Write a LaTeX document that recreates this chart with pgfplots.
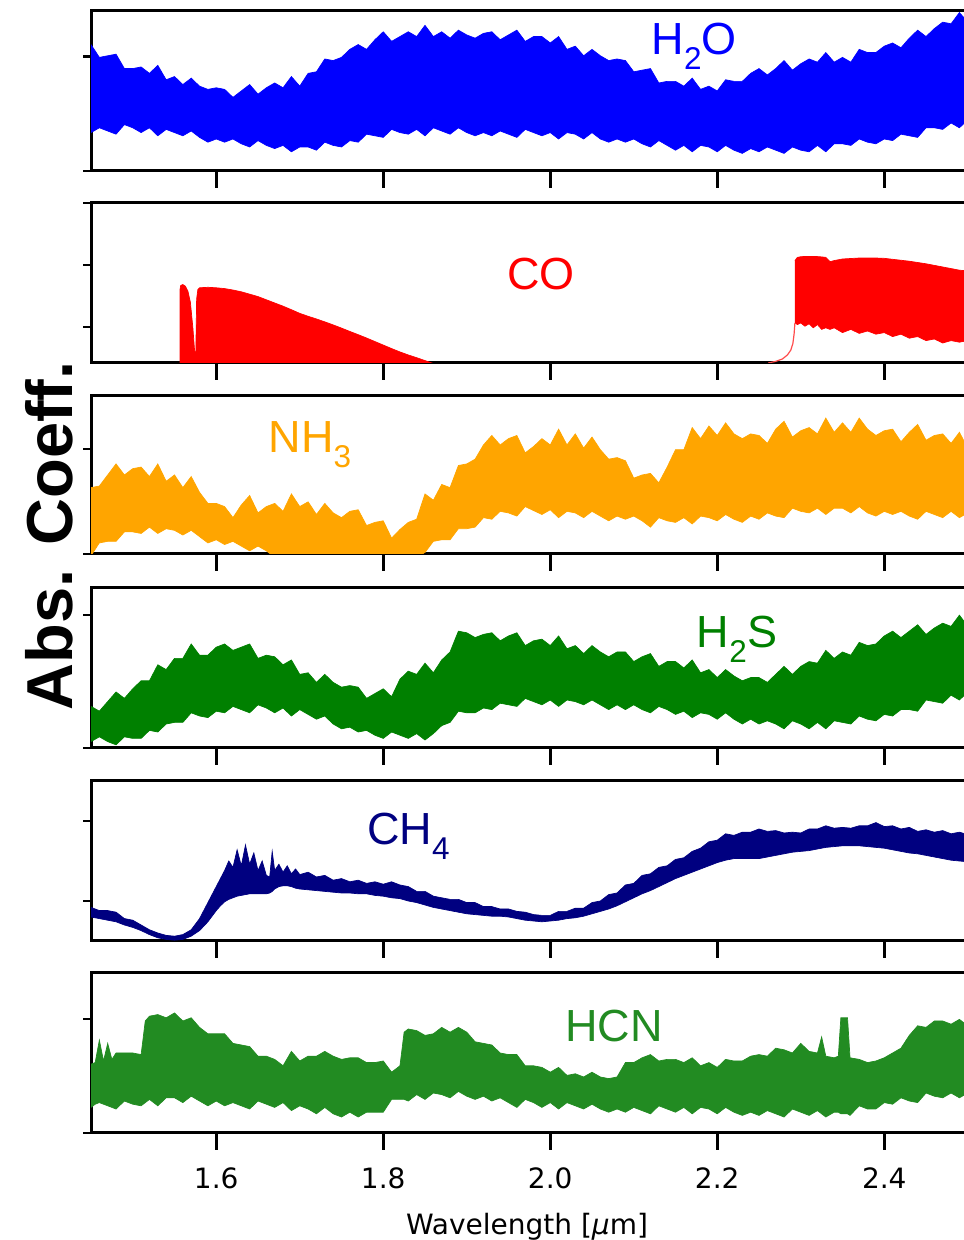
\documentclass[border=0pt]{standalone}
\usepackage{fontspec}
\setmainfont{DejaVu Sans}
\newfontfamily\lab{Liberation Sans}
\usepackage{graphicx}
\usepackage{pgfplots}
\usepgfplotslibrary{fillbetween}
\pgfplotsset{compat=1.18}
\usepackage{pgfplotstable}
\definecolor{cHHO}{RGB}{0,0,255}
\definecolor{cCO}{RGB}{255,0,0}
\definecolor{cNHHH}{RGB}{255,165,0}
\definecolor{cHHS}{RGB}{0,128,0}
\definecolor{cCHHHH}{RGB}{0,0,128}
\definecolor{cHCN}{RGB}{34,139,34}
\newcommand{\sub}[1]{\raisebox{-0.33em}{\fontsize{15.75}{16}\selectfont #1}}

\pgfplotstableread{
x u l
1.45 79 24
1.46 71 27
1.47 72 25
1.48 73 23
1.49 64 29
1.50 64 27
1.51 65 24
1.52 61 27
1.53 66 22
1.54 57 26
1.55 59 24
1.56 54 22
1.57 58 25
1.58 53 21
1.59 51 18
1.60 52 20
1.61 51 18
1.62 46 20
1.63 50 17
1.64 54 15
1.65 48 19
1.66 52 16
1.67 55 14
1.68 52 16
1.69 59 12
1.70 53 15
1.71 61 15
1.72 62 13
1.73 70 18
1.74 69 16
1.75 71 15
1.76 76 19
1.77 79 18
1.78 76 23
1.79 82 22
1.80 87 21
1.81 81 26
1.82 84 24
1.83 87 23
1.84 84 26
1.85 91 22
1.86 84 27
1.87 87 25
1.88 83 23
1.89 88 27
1.90 85 24
1.91 83 22
1.92 86 24
1.93 87 22
1.94 82 25
1.95 85 23
1.96 88 21
1.97 81 26
1.98 84 24
1.99 84 22
2.00 80 24
2.01 84 20
2.02 76 24
2.03 78 23
2.04 72 20
2.05 76 24
2.06 72 20
2.07 69 18
2.08 70 20
2.09 69 18
2.10 62 20
2.11 63 17
2.12 64 15
2.13 55 19
2.14 56 16
2.15 56 13
2.16 53 16
2.17 58 12
2.18 51 16
2.19 53 15
2.20 50 12
2.21 57 16
2.22 56 13
2.23 56 11
2.24 61 14
2.25 64 12
2.26 60 15
2.27 64 13
2.28 69 11
2.29 63 15
2.30 67 13
2.31 70 12
2.32 68 16
2.33 74 12
2.34 68 17
2.35 71 17
2.36 68 16
2.37 76 20
2.38 74 18
2.39 74 17
2.40 78 20
2.41 80 19
2.42 77 23
2.43 83 22
2.44 88 21
2.45 84 27
2.46 89 27
2.47 93 26
2.48 92 30
2.49 99 27
2.50 93 32
}\tHHO

\pgfplotstableread{
x y
1.5566 0
1.5566 46
1.5575 48.5
1.560 49
1.563 48
1.566 45
1.569 38
1.572 22
1.574 8
1.5755 5
1.5765 40
1.578 46
1.58 47
1.59 47.3
1.60 47
1.61 46.5
1.62 45.6
1.63 44.5
1.64 43
1.65 41.5
1.66 39.5
1.67 37.5
1.68 35.5
1.69 33.3
1.70 31
1.71 29.2
1.72 27.5
1.73 25.7
1.74 23.8
1.75 21.8
1.76 19.7
1.77 17.7
1.78 15.6
1.79 13.4
1.80 11.2
1.81 9
1.82 6.9
1.83 5
1.84 3.3
1.85 1.5
1.858 0
}\tCOa

\pgfplotstableread{
x u l
2.293 64 25
2.296 66 24
2.300 66.4 25
2.305 66.6 23
2.310 66.6 24.5
2.315 66.5 22
2.320 66.5 24
2.325 66.3 21
2.330 66 22
2.335 63.3 21
2.340 64 22
2.350 65 19
2.360 65.3 21
2.370 65.6 18.5
2.380 65.6 20
2.390 65.6 18
2.400 65.4 19
2.410 64.8 16.5
2.420 64.2 18
2.430 63.6 15.5
2.440 62.8 16.5
2.450 62 14
2.460 61 15
2.470 60 12.5
2.480 59 14
2.490 58 13
2.500 57.5 14
}\tCOb

\pgfplotstableread{
x y
2.261 0
2.270 1
2.278 2.5
2.284 5
2.288 8
2.2905 12
2.292 18
2.293 25
}\tCOc

\pgfplotstableread{
x u l
1.45 42 -1
1.46 43 7
1.47 50 8
1.48 57 8
1.49 50 14
1.50 54 14
1.51 55 13
1.52 49 17
1.53 57 13
1.54 46 16
1.55 50 15
1.56 42 12
1.57 49 15
1.58 39 11
1.59 32 7
1.60 32 9
1.61 30 6
1.62 23 8
1.63 31 5
1.64 37 2
1.65 26 5
1.66 30 2
1.67 32 -2
1.68 27 -2
1.69 38 -2
1.70 30 -2
1.71 33 -2
1.72 25 -2
1.73 32 -2
1.74 26 -2
1.75 23 -2
1.76 27 -2
1.77 28 -2
1.78 18 -2
1.79 20 -2
1.80 21 -2
1.81 10 -2
1.82 15.5 -2
1.83 20 -2
1.84 22 -2
1.85 38 1
1.86 34 8
1.87 44 9
1.88 42 9
1.89 56 16
1.90 57 16
1.91 60 17
1.92 69 23
1.93 75 22
1.94 69 27
1.95 73 26
1.96 75 24
1.97 64 30
1.98 68 27.5
1.99 73 25
2.00 69 28
2.01 79 23
2.02 69 27
2.03 76 26
2.04 67 23
2.05 74 27
2.06 66 24
2.07 60 21
2.08 61 24
2.09 59 22
2.10 48 24
2.11 50 21
2.12 51 17
2.13 45 23
2.14 55 21
2.15 66 20
2.16 66 23
2.17 80 19
2.18 73 24
2.19 81 23
2.20 75 21
2.21 83 25
2.22 76 22
2.23 73 20
2.24 76 24
2.25 75 22
2.26 70 26
2.27 79 24
2.28 84 23
2.29 74 29
2.30 78 27
2.31 80 26
2.32 76 29
2.33 86 25
2.34 77 29
2.35 83 29
2.36 77 26
2.37 86 30
2.38 79 26
2.39 75 24
2.40 78 27
2.41 79 25
2.42 71 27
2.43 77 24
2.44 82 22
2.45 72 27
2.46 75 25
2.47 76 23
2.48 70 27
2.49 77 23
2.50 67 26
}\tNHHH

\pgfplotstableread{
x u l
1.45 26 4
1.46 23 7
1.47 29 4
1.48 35 2
1.49 31 7
1.50 37 6
1.51 42 6
1.52 42 11
1.53 52 10
1.54 49 15
1.55 56 16
1.56 56 16
1.57 65 22
1.58 58 20
1.59 58 19
1.60 63 23
1.61 65 22
1.62 61 26
1.63 63 24
1.64 65 22
1.65 56 27
1.66 58 25
1.67 57 22
1.68 52 25
1.69 55 20
1.70 46 24
1.71 47 21
1.72 41 18
1.73 46 20
1.74 41 15
1.75 38 12
1.76 39 13
1.77 38 10
1.78 31 11
1.79 34 8
1.80 37 6
1.81 32 10
1.82 43 8
1.83 48 6
1.84 46 9
1.85 53 5
1.86 47 9
1.87 55 14
1.88 60 16
1.89 73 23
1.90 72 22
1.91 69 22
1.92 71 25
1.93 72 24
1.94 67 28
1.95 70 27
1.96 72 26
1.97 64 31
1.98 67 29
1.99 68 27
2.00 64 30
2.01 70 26
2.02 62 30
2.03 64 29
2.04 59 27
2.05 64 30
2.06 60 27
2.07 57 24
2.08 60 27
2.09 60 24
2.10 54 27
2.11 57 24
2.12 59 22
2.13 51 26
2.14 54 24
2.15 54 21
2.16 50 23
2.17 55 19
2.18 47 22
2.19 49 21
2.20 44 18
2.21 49 22
2.22 45 18
2.23 42 15
2.24 44 18
2.25 44 15
2.26 41 17
2.27 46 15
2.28 51 12
2.29 46 17
2.30 51 15
2.31 54 12
2.32 53 16
2.33 61 12
2.34 56 17
2.35 60 16
2.36 58 15
2.37 66 20
2.38 64 18
2.39 65 17
2.40 70 21
2.41 73 20
2.42 69 24
2.43 73 24
2.44 77 23
2.45 71 30
2.46 75 29
2.47 78 28
2.48 76 33
2.49 83 30
2.50 76 35
}\tHHS

\pgfplotstableread{
x u l
1.45 21 15
1.46 19 14
1.47 19 13
1.48 18 12
1.49 14 10
1.50 13 8.5
1.51 10 6.5
1.52 7 4
1.53 5 2
1.54 3.5 1
1.55 3 0.5
1.56 4 1
1.57 7 3
1.58 14 6.5
1.59 24 12
1.60 34 19
1.605 39 22
1.61 44 24.5
1.615 50 26
1.62 46 27
1.625 57 28
1.63 47 28.5
1.635 60 29
1.64 48 29.5
1.645 55 29.5
1.65 44 29.5
1.655 50 29.5
1.66 41 29.5
1.664 40 30
1.667 56 31
1.67 44 32.5
1.675 48 34
1.68 43 34.5
1.685 47 34.5
1.69 42 34
1.695 45 33
1.70 41.5 32.5
1.71 43 32
1.72 40 31.5
1.73 41 31
1.74 38 30.5
1.75 39 30
1.76 37 30
1.77 38 29.5
1.78 36 29.5
1.79 37 28.5
1.80 35.5 28
1.81 37 27
1.82 35 26.5
1.83 34 25
1.84 31 24
1.85 31 22.5
1.86 28 21
1.87 27 20
1.88 26 19
1.89 26 18
1.90 24 17
1.91 24 16.5
1.92 21.5 16
1.93 21.5 15.5
1.94 20 15.5
1.95 20 15
1.96 18.5 14
1.97 18 13
1.98 16.5 12.5
1.99 16 12
2.00 16 12.5
2.01 18.5 13
2.02 18.5 14
2.03 20.5 14.5
2.04 20.5 15.5
2.05 24 17
2.06 25 18.5
2.07 29 20
2.08 30 22
2.09 35 24.5
2.10 36 27
2.11 41 29.5
2.12 42 31.5
2.13 46 34
2.14 47 36.5
2.15 51 39
2.16 52 41
2.17 56 43
2.18 58 45
2.19 62 47
2.20 63 49
2.21 67 50.5
2.22 66 51.5
2.23 68 51.5
2.24 68 51.5
2.25 70 51.5
2.26 68.5 52.5
2.27 69 53.5
2.28 67.5 54.5
2.29 68 55.5
2.30 67.5 56
2.31 70 56.5
2.32 70 57.5
2.33 72 58.5
2.34 70.5 59
2.35 71 59.5
2.36 70.5 59.5
2.37 72 59.5
2.38 72 59
2.39 74 58.5
2.40 71.5 58
2.41 72 57
2.42 70 56
2.43 71 55
2.44 68.5 54.5
2.45 69.5 53.5
2.46 68 52.5
2.47 69 51.5
2.48 67 50.5
2.49 68 50
2.50 66.5 49.5
}\tCHHHH

\pgfplotstableread{
x u l
1.45 43 16
1.455 44 18
1.46 58 19
1.465 45 18
1.47 56 17
1.475 46 16
1.48 50 15
1.49 50 20
1.50 50 18
1.51 49 17
1.515 70 19
1.52 73 21
1.53 74 17
1.54 72 22
1.55 75 22
1.56 70 19
1.57 72 23
1.58 66 20
1.59 62 17
1.60 62 20
1.61 62 17
1.62 56 19
1.63 55 17
1.64 54 15
1.65 48 20
1.66 48 18
1.67 46 16
1.68 42 19
1.69 51 14
1.70 45 17
1.71 48 15
1.72 48 12
1.73 51 16
1.74 48 12
1.75 46 10
1.76 47 13
1.77 47 10
1.78 44 13
1.79 44 13
1.80 45 13
1.81 38 21
1.82 42 21
1.825 63 21
1.83 65 20
1.84 64 24
1.85 61 21
1.86 62 25
1.87 66 24
1.88 63 22
1.89 66 26
1.90 63 23
1.91 57 21
1.92 56 23
1.93 55 20
1.94 50 22
1.95 49 19
1.96 49 16
1.97 42 21
1.98 42 19
1.99 41 16
2.00 38 19
2.01 41 15
2.02 36 19
2.03 37 17
2.04 35 15
2.05 38 18
2.06 35 15
2.07 34 13
2.08 35 15
2.09 44 13
2.10 44 16
2.11 47 14
2.12 49 12
2.13 45 17
2.14 46 15
2.15 46 13
2.16 44 16
2.17 47 12
2.18 42 16
2.19 44 15
2.20 41 12
2.21 46 16
2.22 45 13
2.23 45 11
2.24 48 13
2.25 49 11
2.26 48 14
2.27 53 12
2.28 52 10
2.29 50 15
2.30 56 13
2.31 51 11
2.32 50 14
2.325 60 12
2.33 48 10
2.34 47 13
2.345 48 13
2.348 72 12
2.356 72 12
2.359 47 11
2.37 46 17
2.38 44 15
2.39 45 15
2.40 47 19
2.41 50 18
2.42 53 22
2.43 61 20
2.44 67 19
2.45 66 25
2.46 70 23
2.47 70 22
2.48 68 25
2.49 71 22
2.50 67 25
}\tHCN

\pgfplotsset{
  panel/.style={
    scale only axis, width=437.75pt, height=80pt,
    xmin=1.45, xmax=2.4985, ymin=0, ymax=100,
    anchor=south west,
    axis line style={line width=1.5pt, black},
    tick pos=left, tick align=outside,
    major tick length=8.5pt,
    xtick={1.6,1.8,2.0,2.2,2.4},
    xticklabels={}, yticklabels={},
    xtick style={line width=1.4pt, black},
    ytick style={line width=1.4pt, black, /pgfplots/major tick length=4pt},
    /pgf/number format/assume math mode=true,
  },
  band/.style={draw=#1, line width=0.35pt},
}

\begin{document}
\begin{tikzpicture}

% H2O
\begin{axis}[panel, at={(45.5pt,534.5pt)}, ytick={0,71.7}]
\addplot[band=cHHO, name path=A] table[x=x,y=u] {\tHHO};
\addplot[band=cHHO, name path=B] table[x=x,y=l] {\tHHO};
\addplot[cHHO] fill between[of=A and B];
\end{axis}

% CO
\begin{axis}[panel, at={(45.5pt,438.5pt)}, ytick={22.5,61.25,100}]
\addplot[fill=cCO, draw=cCO, line width=0.35pt] table[x=x,y=y] {\tCOa} \closedcycle;
\addplot[band=cCO, name path=A] table[x=x,y=u] {\tCOb};
\addplot[band=cCO, name path=B] table[x=x,y=l] {\tCOb};
\addplot[cCO] fill between[of=A and B];
\addplot[cCO!70, line width=0.6pt] table[x=x,y=y] {\tCOc};
\end{axis}

% NH3
\begin{axis}[panel, at={(45.5pt,343pt)}, height=79pt, ytick={0,66.5}]
\addplot[band=cNHHH, name path=A] table[x=x,y=u] {\tNHHH};
\addplot[band=cNHHH, name path=B] table[x=x,y=l] {\tNHHH};
\addplot[cNHHH] fill between[of=A and B];
\end{axis}

% H2S
\begin{axis}[panel, at={(45.5pt,246pt)}, ytick={0,83.1}]
\addplot[band=cHHS, name path=A] table[x=x,y=u] {\tHHS};
\addplot[band=cHHS, name path=B] table[x=x,y=l] {\tHHS};
\addplot[cHHS] fill between[of=A and B];
\end{axis}

% CH4
\begin{axis}[panel, at={(45.5pt,149.5pt)}, ytick={25,75}]
\addplot[band=cCHHHH, name path=A] table[x=x,y=u] {\tCHHHH};
\addplot[band=cCHHHH, name path=B] table[x=x,y=l] {\tCHHHH};
\addplot[cCHHHH] fill between[of=A and B];
\end{axis}

% HCN
\begin{axis}[panel, at={(45.5pt,53.5pt)}, ytick={0,71.25},
  xticklabels={1.6,1.8,2.0,2.2,2.4},
  xticklabel style={font=\fontsize{14}{16}\selectfont, anchor=base, inner sep=0pt, yshift=-19.5pt}]
\addplot[band=cHCN, name path=A] table[x=x,y=u] {\tHCN};
\addplot[band=cHCN, name path=B] table[x=x,y=l] {\tHCN};
\addplot[cHCN] fill between[of=A and B];
\end{axis}

% labels
\tikzset{mol/.style={font=\lab\fontsize{22.5}{26}\selectfont, anchor=base, inner sep=0pt}}
\node[mol, text=cHHO] at (347pt,592.5pt) {H\sub{2}O};
\node[mol, text=cCO] at (270.5pt,475pt) {CO};
\node[mol, text=cNHHH] at (155pt,393.5pt) {NH\sub{3}};
\node[mol, text=cHHS] at (368.5pt,296pt) {H\sub{2}S};
\node[mol, text=cCHHHH] at (204.25pt,197.5pt) {CH\sub{4}};
\node[mol, text=cHCN] at (307pt,99pt) {HCN};

\node[rotate=90, anchor=base, inner sep=0pt, font=\lab\bfseries\fontsize{32.5}{36}\selectfont] at (36pt,352pt) {Abs. Coeff.};
\node[anchor=base, inner sep=0pt, font=\fontsize{14}{16}\selectfont] at (263.5pt,2.5pt) {Wavelength [\textit{μ}m]};

\pgfresetboundingbox
\path[use as bounding box] (0,0) rectangle (481.5pt,620pt);
\end{tikzpicture}
\end{document}
